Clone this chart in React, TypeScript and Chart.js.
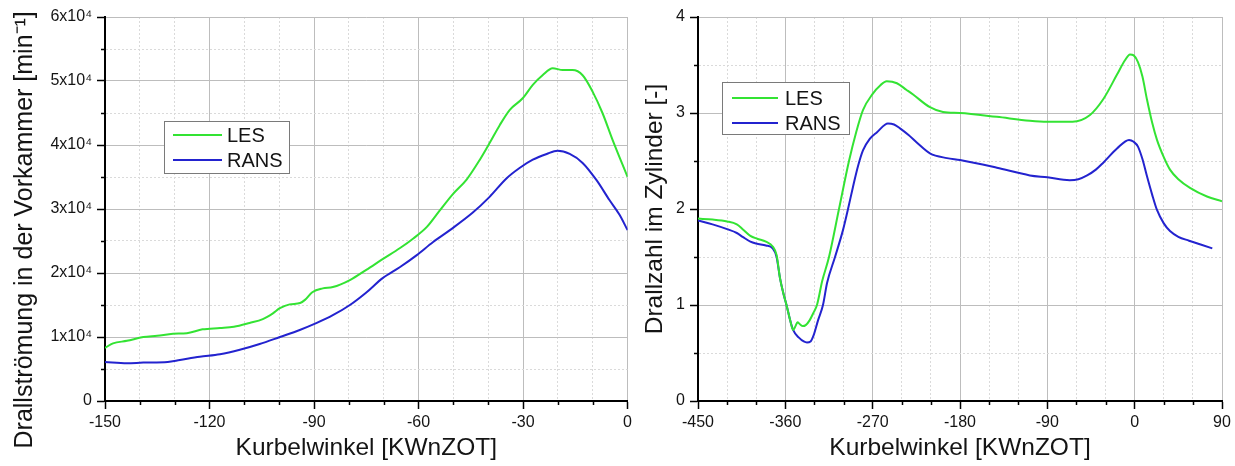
import { useEffect, useRef } from 'react';
import { Chart, registerables } from 'chart.js';

Chart.register(...registerables);

const FONT = "'Liberation Sans', Arial, Helvetica, sans-serif";
const GREEN = '#33e333';
const BLUE = '#2323cf';
const TEXT = '#141414';

// ---------- Left chart: Drallströmung in der Vorkammer ----------
const VK_LES_ANGLE = [-150, -147.7, -143.7, -139, -135, -130.5, -126.5, -122, -117, -113, -108.5, -104.7, -101.8, -99.8, -97, -94, -92.6, -90.5, -87.5, -84.6, -79.7, -75, -70.2, -65.3, -61.5, -57.6, -54, -50.2, -46.2, -42.4, -39.6, -36.7, -33.8, -30.1, -27.2, -24.4, -21.5, -18.6, -15.8, -12.9, -10, -7.2, -4.3, 0];
const VK_LES_VALUE = [8300, 9000, 9400, 10000, 10200, 10500, 10600, 11200, 11400, 11600, 12200, 12800, 13700, 14500, 15100, 15300, 15800, 17000, 17600, 17800, 18900, 20500, 22200, 23900, 25400, 27200, 29700, 32300, 34600, 37700, 40300, 43100, 45500, 47300, 49400, 50900, 52000, 51700, 51700, 50900, 48300, 45000, 40800, 35000];
const VK_RANS_ANGLE = [-150, -143.7, -139, -132, -128.5, -122.8, -117, -111.3, -105.6, -99.8, -94.1, -89.2, -84.6, -79.7, -74.9, -70.3, -65.4, -60.5, -55.9, -51, -44.5, -39.6, -34.7, -31, -27.2, -23.2, -20.1, -16.6, -12.9, -8.9, -5.2, -2.3, 0];
const VK_RANS_VALUE = [6100, 5900, 6000, 6100, 6400, 6900, 7300, 8000, 8900, 10000, 11100, 12200, 13400, 15000, 17000, 19200, 20900, 22800, 24800, 26700, 29400, 31900, 34800, 36400, 37700, 38600, 39100, 38600, 37200, 34500, 31400, 29100, 26700];

// ---------- Right chart: Drallzahl im Zylinder ----------
const ZY_LES_ANGLE = [-450, -435, -420, -410, -404, -396, -389, -380, -373, -369, -365.5, -362, -358.3, -355, -352, -349.5, -347.5, -345, -342, -339, -335, -331, -327.4, -322, -315, -304.7, -294.4, -287, -280, -270, -262, -255.5, -245, -235, -228, -211, -197.5, -180, -142, -108, -90, -64, -46, -32.6, -18.2, -10, -4.8, -1, 3.4, 8, 12.7, 18, 23, 30, 36.4, 45, 57, 74.5, 90];
const ZY_LES_VALUE = [1.9, 1.89, 1.87, 1.84, 1.79, 1.72, 1.69, 1.66, 1.61, 1.52, 1.28, 1.12, 0.98, 0.84, 0.74, 0.78, 0.82, 0.8, 0.78, 0.79, 0.84, 0.92, 1.0, 1.25, 1.5, 2.0, 2.5, 2.8, 3.03, 3.2, 3.29, 3.33, 3.31, 3.24, 3.19, 3.06, 3.01, 3.0, 2.96, 2.92, 2.91, 2.91, 2.98, 3.14, 3.4, 3.55, 3.61, 3.6, 3.53, 3.38, 3.14, 2.9, 2.72, 2.54, 2.41, 2.31, 2.22, 2.13, 2.08];
const ZY_RANS_ANGLE = [-450, -435, -420, -410, -404, -396, -390, -380, -373, -369, -365.5, -362, -358.3, -355, -352, -346, -341, -337.7, -334, -331, -326.3, -321.2, -317, -308.8, -300.6, -295.4, -290.3, -285, -280, -273, -265.5, -254.2, -248, -241.8, -233, -224.3, -211, -193.4, -180, -142, -108, -90, -67, -58, -49, -40, -32.6, -18.2, -5.8, -1, 3.4, 8, 12.7, 18, 23, 30, 36.4, 45, 56, 68, 80];
const ZY_RANS_VALUE = [1.88, 1.84, 1.79, 1.75, 1.71, 1.66, 1.64, 1.62, 1.59, 1.5, 1.28, 1.12, 0.98, 0.84, 0.74, 0.66, 0.62, 0.61, 0.62, 0.68, 0.84, 1.0, 1.23, 1.5, 1.78, 2.0, 2.23, 2.45, 2.61, 2.73, 2.8, 2.89, 2.88, 2.84, 2.77, 2.69, 2.58, 2.53, 2.51, 2.43, 2.35, 2.33, 2.3, 2.31, 2.35, 2.41, 2.48, 2.63, 2.72, 2.7, 2.65, 2.52, 2.34, 2.15, 1.99, 1.85, 1.77, 1.71, 1.67, 1.63, 1.59];

const SERIES_LABELS = ['LES', 'RANS'];
const X_TITLE = 'Kurbelwinkel [KWnZOT]';
// trailing spaces shift the centred rotated title down, as in the reference
const VK_Y_TITLE = 'Drallströmung in der Vorkammer [min⁻¹]      ';
const ZY_Y_TITLE = 'Drallzahl im Zylinder [-]';

const isMult = (v: number, m: number) => Math.abs(v / m - Math.round(v / m)) < 1e-6;

const minorTicksPlugin = {
  id: 'minorTicks',
  afterDraw(chart: any, _a: any, o: any) {
    const { ctx, chartArea } = chart;
    const xs = chart.scales.x;
    const ys = chart.scales.y;
    ctx.save();
    ctx.strokeStyle = '#000';
    ctx.lineWidth = 1.5;
    ctx.beginPath();
    for (const t of xs.ticks) {
      if (isMult(t.value, o.xMajor)) continue;
      const px = Math.round(xs.getPixelForValue(t.value)) + 0.5;
      ctx.moveTo(px, chartArea.bottom);
      ctx.lineTo(px, chartArea.bottom + 4);
    }
    for (const t of ys.ticks) {
      if (isMult(t.value, o.yMajor)) continue;
      const py = Math.round(ys.getPixelForValue(t.value)) + 0.5;
      ctx.moveTo(chartArea.left, py);
      ctx.lineTo(chartArea.left - 4, py);
    }
    ctx.stroke();
    ctx.restore();
  },
};

const boxLegendPlugin = {
  id: 'boxLegend',
  afterDraw(chart: any, _a: any, o: any) {
    const { ctx, chartArea } = chart;
    const x = Math.round(chartArea.left + o.dx);
    const y = Math.round(chartArea.top + o.dy);
    ctx.save();
    ctx.fillStyle = '#fff';
    ctx.fillRect(x, y, o.w, o.h);
    ctx.strokeStyle = '#7a7a7a';
    ctx.lineWidth = 1;
    ctx.strokeRect(x + 0.5, y + 0.5, o.w, o.h);
    ctx.font = `20px ${FONT}`;
    ctx.textBaseline = 'middle';
    ctx.textAlign = 'left';
    chart.data.datasets.forEach((ds: any, i: number) => {
      const ly = y + o.row0 + i * o.rowGap;
      ctx.strokeStyle = ds.borderColor;
      ctx.lineWidth = 2;
      ctx.beginPath();
      ctx.moveTo(x + o.line0, ly);
      ctx.lineTo(x + o.line1, ly);
      ctx.stroke();
      ctx.fillStyle = TEXT;
      ctx.fillText(ds.label, x + o.textX, ly + 1);
    });
    ctx.restore();
  },
};

function toPoints(xs: number[], ys: number[]) {
  return xs.map((x, i) => ({ x, y: ys[i] }));
}

function axis(cfg: any) {
  const { min, max, step, major, label, fit, isX, title, titlePad, titleSize } = cfg;
  return {
    type: 'linear',
    min,
    max,
    afterFit: (s: any) => {
      if (isX) s.height = fit;
      else s.width = fit;
    },
    ticks: {
      stepSize: step,
      autoSkip: false,
      maxRotation: 0,
      maxTicksLimit: 200,
      padding: isX ? 4 : 5,
      color: TEXT,
      font: { family: FONT, size: 16 },
      callback: (v: number) => (isMult(v, major) ? label(v) : ''),
    },
    grid: {
      color: (c: any) => (c.tick && isMult(c.tick.value, major) ? '#bdbdbd' : '#dadada'),
      lineWidth: 1,
      tickLength: 8,
      tickWidth: 1.5,
      tickColor: (c: any) => (c.tick && isMult(c.tick.value, major) ? '#000' : 'rgba(0,0,0,0)'),
    },
    border: {
      display: true,
      color: '#000',
      width: 2,
      dash: (c: any) => (c.tick && !isMult(c.tick.value, major) ? [2, 2] : []),
    },
    title: {
      display: true,
      text: title,
      color: TEXT,
      font: { family: FONT, size: titleSize },
      padding: titlePad,
    },
  };
}

function buildConfig(kind: 'vk' | 'zy'): any {
  const vk = kind === 'vk';
  const datasets = vk
    ? [
        { label: SERIES_LABELS[0], data: toPoints(VK_LES_ANGLE, VK_LES_VALUE), borderColor: GREEN },
        { label: SERIES_LABELS[1], data: toPoints(VK_RANS_ANGLE, VK_RANS_VALUE), borderColor: BLUE },
      ]
    : [
        { label: SERIES_LABELS[0], data: toPoints(ZY_LES_ANGLE, ZY_LES_VALUE), borderColor: GREEN },
        { label: SERIES_LABELS[1], data: toPoints(ZY_RANS_ANGLE, ZY_RANS_VALUE), borderColor: BLUE },
      ];
  return {
    type: 'line',
    data: {
      datasets: datasets.map((d) => ({
        ...d,
        borderWidth: 2,
        pointRadius: 0,
        fill: false,
        cubicInterpolationMode: 'monotone',
      })),
    },
    options: {
      animation: false,
      responsive: false,
      maintainAspectRatio: false,
      layout: { padding: vk ? { left: 0, top: 17, right: 8, bottom: 0 } : { left: 0, top: 17, right: 13, bottom: 0 } },
      scales: {
        x: axis({
          isX: true,
          min: vk ? -150 : -450,
          max: vk ? 0 : 90,
          step: vk ? 10 : 30,
          major: vk ? 30 : 90,
          label: (v: number) => String(v === 0 ? 0 : v),
          fit: 65,
          title: X_TITLE,
          titleSize: 24.5,
          titlePad: { top: 0, bottom: 3 },
        }),
        y: axis({
          isX: false,
          min: 0,
          max: vk ? 60000 : 4,
          step: vk ? 5000 : 0.5,
          major: vk ? 10000 : 1,
          label: vk ? (v: number) => (v === 0 ? '0' : `${Math.round(v / 10000)}x10⁴`) : (v: number) => String(v),
          fit: vk ? 105 : 66,
          title: vk ? VK_Y_TITLE : ZY_Y_TITLE,
          titleSize: vk ? 25 : 24.5,
          titlePad: vk ? { top: 10, bottom: 0 } : { top: 9, bottom: 0 },
        }),
      },
      plugins: {
        legend: { display: false },
        tooltip: { enabled: false },
        minorTicks: { xMajor: vk ? 30 : 90, yMajor: vk ? 10000 : 1 },
        boxLegend: vk
          ? { dx: 59, dy: 104, w: 125, h: 52, line0: 9, line1: 58, row0: 14, rowGap: 25, textX: 63 }
          : { dx: 24, dy: 65, w: 127, h: 52, line0: 10, line1: 56, row0: 16, rowGap: 25, textX: 63 },
      },
    },
    plugins: [minorTicksPlugin, boxLegendPlugin],
  };
}

function ChartCanvas({ kind, left, width }: { kind: 'vk' | 'zy'; left: number; width: number }) {
  const ref = useRef<HTMLCanvasElement | null>(null);
  useEffect(() => {
    if (!ref.current) return;
    const chart = new Chart(ref.current, buildConfig(kind));
    return () => chart.destroy();
  }, [kind]);
  return (
    <canvas
      ref={ref}
      width={width}
      height={466}
      style={{ position: 'absolute', left, top: 0, width, height: 466 }}
    />
  );
}

export default function App() {
  return (
    <div style={{ position: 'absolute', left: 0, top: 0, width: 1235, height: 466, background: '#fff', overflow: 'hidden' }}>
      <ChartCanvas kind="vk" left={0} width={636} />
      <ChartCanvas kind="zy" left={632} width={603} />
    </div>
  );
}
